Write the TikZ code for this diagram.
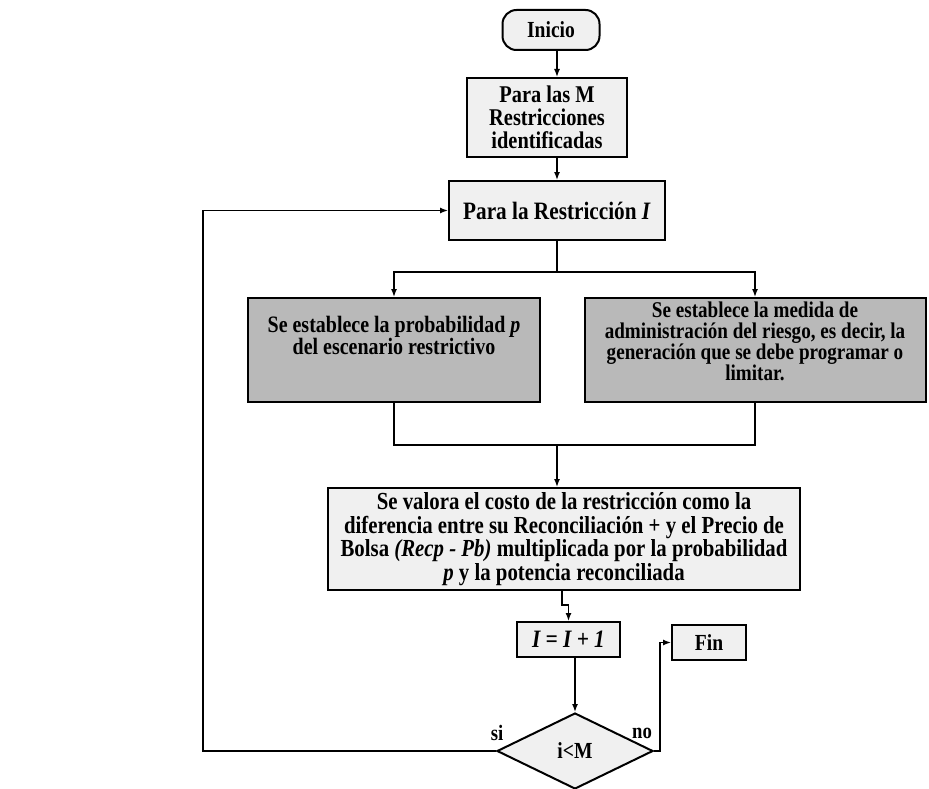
\documentclass[tikz,border=0pt]{standalone}
\usepackage{fontspec}
\setmainfont{Liberation Serif}[FakeStretch=0.85]
\usepackage{xcolor}
\usetikzlibrary{shapes.geometric,arrows.meta}

\begin{document}
\begin{tikzpicture}[x=1pt,y=-1pt,
        caja/.style={draw,line width=2pt,fill=gray!12,inner sep=0pt,align=center},
        oscura/.style={caja,fill=gray!55},
        flecha/.style={-{Latex[length=8pt,width=6pt]},line width=1.4pt},
        linea/.style={line width=1.4pt}]
        \useasboundingbox (0,0) rectangle (929,789);

        \node[caja,rounded corners=14pt,minimum width=97pt,minimum height=40pt,font=\bfseries\fontsize{23}{25}\selectfont] (ini) at (551,30) {Inicio};
        \node[caja,minimum width=160pt,minimum height=79pt,font=\bfseries\fontsize{24}{23}\selectfont] (ident) at (547,117.5) {Para las M\\Restricciones\\identificadas};
        \node[caja,minimum width=216pt,minimum height=59pt,font=\bfseries\fontsize{25}{27}\selectfont] (restr) at (557,210.5) {Para la Restricción \textit{I}};
        \node[oscura,minimum width=292pt,minimum height=104pt,font=\bfseries\fontsize{23.5}{22}\selectfont] (prob) at (394,350) {Se establece la probabilidad \textit{p}\\del escenario restrictivo\\\strut};
        \node[oscura,minimum width=341pt,minimum height=104pt,font=\bfseries\fontsize{22.5}{21}\selectfont] (medida) at (755,350) {Se establece la medida de\\administración del riesgo, es decir, la\\generación que se debe programar o\\limitar.\\[-10pt]\strut};
        \node[caja,minimum width=472pt,minimum height=102pt,font=\bfseries\fontsize{24.5}{23.5}\selectfont] (valora) at (564,539) {Se valora el costo de la restricción como la\\diferencia entre su Reconciliación + y el Precio de\\Bolsa \textit{(Recp - Pb)} multiplicada por la probabilidad\\\textit{p} y la potencia reconciliada};
        \node[caja,minimum width=103pt,minimum height=35pt,font=\bfseries\fontsize{25}{27}\selectfont] (incr) at (568.5,639.5) {\textit{I = I + 1}};
        \node[caja,minimum width=74pt,minimum height=35pt,font=\bfseries\fontsize{23}{25}\selectfont] (fin) at (709,642.5) {Fin};
        \node[caja,diamond,aspect=2,minimum width=156pt,minimum height=76pt,font=\bfseries\fontsize{23}{25}\selectfont] (cond) at (575,751) {i<M};
        \node[font=\bfseries\fontsize{22}{24}\selectfont] (si) at (497,733) {si};
        \node[font=\bfseries\fontsize{22}{24}\selectfont] (no) at (642,733) {no};

        \coordinate (split) at (557,272);
        \coordinate (junta) at (557,445);
        \coordinate (codo) at (562,605);
        \coordinate (izq) at (203,0);
        \coordinate (der) at (660,0);

        \draw[flecha] (ini.south -| restr.north) -- (ident.north -| restr.north);
        \draw[flecha] (ident.south -| restr.north) -- (restr.north);
        \draw[linea] (restr.south) -- (split);
        \draw[flecha] (split) -| (prob.north);
        \draw[flecha] (split) -| (medida.north);
        \draw[linea] (prob.south) |- (junta);
        \draw[linea] (medida.south) |- (junta);
        \draw[flecha] (junta) -- (junta |- valora.north);
        \draw[flecha] (valora.south -| codo) -- (codo) -| (incr.north);
        \draw[flecha] (incr.south -| cond.north) -- (cond.north);
        \draw[flecha] (cond.west) -- (cond.west -| izq) |- (restr.west);
        \draw[flecha] (cond.east) -- (cond.east -| der) |- (fin.west);
    \end{tikzpicture}
\end{document}
